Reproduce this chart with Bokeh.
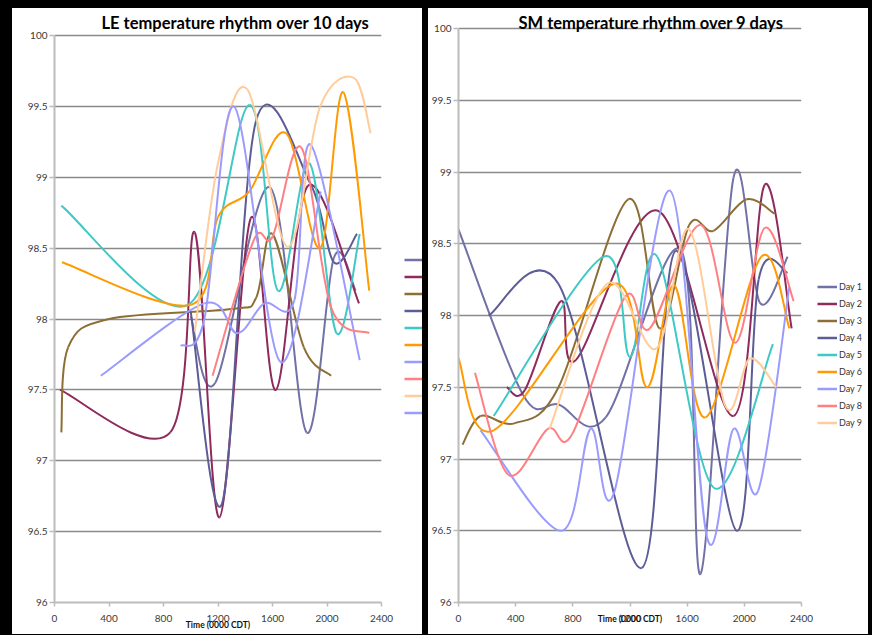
from bokeh.plotting import figure
from bokeh.models import (Range1d, FixedTicker, Legend, LegendItem, CustomJSTickFormatter,
                          ColumnDataSource, Label)
from bokeh.layouts import row
from bokeh.embed import file_html
from bokeh.resources import INLINE

# ---------------- data ----------------
x_ticks = [0, 400, 800, 1200, 1600, 2000, 2400]
y_ticks = [96, 96.5, 97, 97.5, 98, 98.5, 99, 99.5, 100]

le_title = "LE temperature rhythm over 10 days"
sm_title = "SM temperature rhythm over 9 days"
x_title = "Time (0000 CDT)"

# LE panel (10 days)
le_day1_t = [1000, 1180, 1580, 1850, 2050, 2210]
le_day1_v = [98.02, 97.55, 98.93, 97.20, 98.43, 98.20]
le_day2_t = [40, 850, 1030, 1210, 1440, 1625, 1860, 2235]
le_day2_v = [97.50, 97.20, 98.61, 96.60, 98.71, 97.50, 98.94, 98.11]
le_day3_t = [50, 100, 400, 1300, 1480, 1600, 1830, 2030]
le_day3_v = [97.20, 97.80, 98.00, 98.07, 98.15, 98.60, 97.80, 97.60]
le_day4_t = [1000, 1230, 1480, 1880, 2050, 2220]
le_day4_v = [98.05, 96.70, 99.40, 98.95, 98.40, 98.60]
le_day5_t = [50, 980, 1430, 1640, 1870, 2070, 2240]
le_day5_v = [98.80, 98.10, 99.51, 98.20, 99.10, 97.90, 98.60]
le_day6_t = [55, 1000, 1200, 1430, 1700, 1950, 2120, 2310]
le_day6_v = [98.40, 98.10, 98.72, 98.90, 99.31, 98.50, 99.60, 98.20]
le_day7_t = [340, 1100, 1340, 1540, 1760, 1880, 2240]
le_day7_v = [97.60, 98.11, 97.90, 98.11, 98.13, 99.23, 97.71]
le_day8_t = [1160, 1460, 1600, 1810, 2030, 2310]
le_day8_v = [97.60, 98.55, 98.58, 99.21, 98.08, 97.90]
le_day9_t = [1030, 1200, 1415, 1710, 1950, 2200, 2320]
le_day9_v = [97.91, 99.10, 99.62, 98.51, 99.50, 99.70, 99.31]
le_day10_t = [926, 1100, 1317, 1655, 1954]
le_day10_v = [97.81, 98.00, 99.50, 97.70, 98.90]

# SM panel (9 days)
sm_day1_t = [0, 450, 700, 1030, 1560, 1694, 1924, 2108, 2303]
sm_day1_v = [98.60, 97.45, 97.38, 97.29, 98.45, 96.20, 98.96, 98.09, 98.41]
sm_day2_t = [338, 464, 717, 821, 1395, 1924, 2142, 2331]
sm_day2_v = [97.50, 97.48, 98.10, 97.69, 98.73, 97.30, 98.91, 97.91]
sm_day3_t = [28, 154, 395, 700, 1188, 1407, 1614, 1784, 2016, 2211]
sm_day3_v = [97.10, 97.30, 97.25, 97.50, 98.81, 97.91, 98.63, 98.59, 98.81, 98.71]
sm_day4_t = [211, 700, 1280, 1520, 1947, 2100, 2303]
sm_day4_v = [98.00, 98.22, 96.24, 98.45, 96.50, 98.25, 98.30]
sm_day5_t = [246, 1016, 1200, 1391, 1786, 2200]
sm_day5_v = [97.30, 98.41, 97.71, 98.41, 96.80, 97.80]
sm_day6_t = [0, 246, 1085, 1319, 1510, 1728, 2119, 2315]
sm_day6_v = [97.70, 97.20, 98.22, 97.50, 98.21, 97.29, 98.41, 97.91]
sm_day7_t = [154, 717, 924, 1090, 1480, 1740, 1924, 2097, 2315]
sm_day7_v = [97.20, 96.50, 97.21, 96.77, 98.87, 96.45, 97.21, 96.78, 98.20]
sm_day8_t = [115, 349, 625, 794, 1166, 1338, 1694, 1935, 2142, 2345]
sm_day8_v = [97.60, 96.89, 97.21, 97.17, 98.13, 97.91, 98.63, 97.81, 98.61, 98.10]
sm_day9_t = [637, 1039, 1384, 1614, 1867, 2039, 2223]
sm_day9_v = [97.21, 98.22, 97.77, 98.60, 97.37, 97.70, 97.50]

day_labels = ["Day 1", "Day 2", "Day 3", "Day 4", "Day 5",
              "Day 6", "Day 7", "Day 8", "Day 9", "Day 10"]
day_colors = ["#7171a6", "#8e2a5c", "#8d6e36", "#5c5c96", "#3ec9c6",
              "#ff9a00", "#9b9bff", "#ff7f82", "#ffcc9a", "#9b9bff"]

le_series = [(le_day1_t, le_day1_v), (le_day2_t, le_day2_v), (le_day3_t, le_day3_v),
             (le_day4_t, le_day4_v), (le_day5_t, le_day5_v), (le_day6_t, le_day6_v),
             (le_day7_t, le_day7_v), (le_day8_t, le_day8_v), (le_day9_t, le_day9_v),
             (le_day10_t, le_day10_v)]
sm_series = [(sm_day1_t, sm_day1_v), (sm_day2_t, sm_day2_v), (sm_day3_t, sm_day3_v),
             (sm_day4_t, sm_day4_v), (sm_day5_t, sm_day5_v), (sm_day6_t, sm_day6_v),
             (sm_day7_t, sm_day7_v), (sm_day8_t, sm_day8_v), (sm_day9_t, sm_day9_v)]

FONT = "Lato"
HEIGHT = 626
BOTTOM = 32


def smooth_segments(xs, ys):
    """Bezier segments (Catmull-Rom style, like a spreadsheet 'smoothed line')."""
    n = len(xs)
    seg = dict(x0=[], y0=[], x1=[], y1=[], cx0=[], cy0=[], cx1=[], cy1=[])
    for i in range(n - 1):
        xa, ya = (xs[i - 1], ys[i - 1]) if i > 0 else (xs[i], ys[i])
        xb, yb = (xs[i + 2], ys[i + 2]) if i + 2 < n else (xs[i + 1], ys[i + 1])
        seg["x0"].append(xs[i]); seg["y0"].append(ys[i])
        seg["x1"].append(xs[i + 1]); seg["y1"].append(ys[i + 1])
        seg["cx0"].append(xs[i] + (xs[i + 1] - xa) / 6.0)
        seg["cy0"].append(ys[i] + (ys[i + 1] - ya) / 6.0)
        seg["cx1"].append(xs[i + 1] - (xb - xs[i]) / 6.0)
        seg["cy1"].append(ys[i + 1] - (yb - ys[i]) / 6.0)
    return ColumnDataSource(seg)


def make_chart(title, series, width, borders, plot_h, title_xy, xlabel_standoff):
    # frame = chart area horizontally; vertically it reaches the panel top so that
    # the title sits inside it. 96..100 spans plot_h pixels.
    b_left, b_right = borders
    frame_h = HEIGHT - BOTTOM
    y_end = y_ticks[-1] + (y_ticks[-1] - y_ticks[0]) * (frame_h - plot_h) / plot_h
    p = figure(width=width, height=HEIGHT, x_range=Range1d(x_ticks[0], x_ticks[-1]),
               y_range=Range1d(y_ticks[0], y_end),
               output_backend="svg", toolbar_location=None, outline_line_color=None,
               min_border_left=b_left, min_border_right=b_right,
               min_border_top=0, min_border_bottom=BOTTOM)
    p.background_fill_color = "white"
    p.border_fill_color = "white"

    p.xgrid.visible = False
    p.ygrid.ticker = FixedTicker(ticks=y_ticks)
    p.ygrid.grid_line_color = "#8a8a8a"
    p.ygrid.grid_line_width = 1.3

    for ax in (p.xaxis[0], p.yaxis[0]):
        ax.axis_line_color = "#bcbcbc"
        ax.axis_line_width = 2
        ax.major_tick_line_color = "#bcbcbc"
        ax.major_tick_line_width = 1.5
        ax.major_tick_in = 0
        ax.minor_tick_line_color = None
        ax.major_label_text_font = FONT
        ax.major_label_text_font_size = "10px"
        ax.major_label_text_color = "#3a3a3a"
        ax.formatter = CustomJSTickFormatter(code="return String(tick);")
    p.xaxis.ticker = FixedTicker(ticks=x_ticks)
    p.yaxis.ticker = FixedTicker(ticks=y_ticks)
    p.yaxis.bounds = (y_ticks[0], y_ticks[-1])
    p.xaxis.major_tick_out = 4
    p.yaxis.major_tick_out = 5
    p.xaxis.major_label_standoff = 8
    p.yaxis.major_label_standoff = 2
    p.xaxis.axis_label = x_title
    p.xaxis.axis_label_text_font = FONT
    p.xaxis.axis_label_text_font_size = "8.5px"
    p.xaxis.axis_label_text_font_style = "bold"
    p.xaxis.axis_label_text_color = "#111111"
    p.xaxis.axis_label_standoff = xlabel_standoff

    for (t, v), col in zip(series, day_colors):
        p.bezier(x0="x0", y0="y0", x1="x1", y1="y1", cx0="cx0", cy0="cy0",
                 cx1="cx1", cy1="cy1", source=smooth_segments(t, v),
                 line_color=col, line_width=2)

    p.add_layout(Label(x=title_xy[0], y=title_xy[1], x_units="screen", y_units="screen",
                       text=title, text_font=FONT, text_font_size="16.5px",
                       text_font_style="bold", text_color="#000000",
                       text_baseline="alphabetic", text_align="left"))
    return p


def make_legend_strip(series, labels, width, loc, glyph_w):
    # narrow transparent strip to the right of a chart that carries its legend
    q = figure(width=width, height=HEIGHT, output_backend="svg", toolbar_location=None,
               x_axis_type=None, y_axis_type=None, outline_line_color=None,
               background_fill_color=None, border_fill_color=None,
               min_border_left=0, min_border_right=0, min_border_top=0,
               min_border_bottom=BOTTOM)
    items = []
    for (t, v), lab, col in zip(series, labels, day_colors):
        # one-point line: draws nothing, gives the legend its coloured key
        key = q.line(x=t[:1], y=v[:1], line_color=col, line_width=2.5)
        items.append(LegendItem(label=lab, renderers=[key]))
    legend = Legend(items=items, location=loc, padding=0, margin=0,
                    spacing=4, glyph_width=glyph_w, glyph_height=13, label_height=13,
                    label_standoff=2, label_text_font=FONT, label_text_font_size="9px",
                    label_text_color="#333333", border_line_color=None,
                    background_fill_alpha=0)
    q.add_layout(legend, "center")
    return q


p1 = make_chart(le_title, le_series, 384, (42, 15), 567, (47, 580), -5)
# the LE legend's texts are hidden behind the SM panel in the original
l1 = make_legend_strip(le_series, [""] * 10, 26, (8, 183), 22)
p2 = make_chart(sm_title, sm_series, 385, (25, 12), 574, (60, 580), -11)
l2 = make_legend_strip(sm_series, day_labels[:9], 55, (4, 173), 20)

white = {"background-color": "white"}
layout = row(row(p1, l1, spacing=0, styles=white), row(p2, l2, spacing=0, styles=white),
             spacing=6, styles={"background-color": "black", "padding": "8px 4px 1px 12px"})

open("out.html", "w").write(file_html(layout, INLINE))
